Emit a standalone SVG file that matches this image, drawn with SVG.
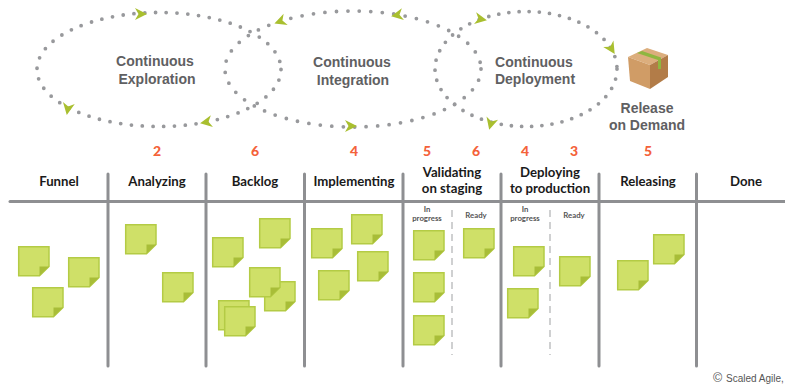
<svg xmlns="http://www.w3.org/2000/svg" width="785" height="388" viewBox="0 0 785 388">
<style>
.dots{fill:none;stroke:#98999c;stroke-width:3.800;stroke-linecap:round}
.rule{stroke:#8e8f92;stroke-width:3;fill:none;stroke-linecap:round}
.dash{stroke:#cfd0d1;stroke-width:2;stroke-dasharray:7 5;fill:none}
.loop{font:bold 14px "Liberation Sans",Arial,sans-serif;fill:#5f6062;text-anchor:middle}
.head{font:700 13.200px Lato,sans-serif;fill:#1a1a1a;text-anchor:middle}
.num{font:900 14px Lato,sans-serif;fill:#f4623a;text-anchor:middle}
.sub{font:700 7.800px Lato,sans-serif;fill:#555;text-anchor:middle}
.copy{font:10px "Liberation Sans",Arial,sans-serif;fill:#555}
</style>
<defs>
<path id="ah" d="M7 0L-5 -6L-1.500 0L-5 6Z" fill="#a9bf2f"/>
<g id="note">
<path d="M.7 .7H31V20.500L21.500 29.700H.7Z" fill="#cfe068" stroke="#b4cb45" stroke-width="1.500"/>
<path d="M31 20.500H21.500V29.700Z" fill="#a8bd38"/>
</g>
</defs>
<rect width="785" height="388" fill="#fff"/>
<g id="connectors">
<ellipse class="dots" cx="159" cy="69.500" rx="122" ry="57" stroke-dasharray="0 10.800"/>
<ellipse class="dots" cx="353" cy="69" rx="128" ry="58" stroke-dasharray="0 11.500"/>
<ellipse class="dots" cx="526" cy="69" rx="91" ry="57.500" stroke-dasharray="0 10.200"/>
<use href="#ah" transform="translate(140 14)"/>
<use href="#ah" transform="translate(281 21) rotate(160)"/>
<use href="#ah" transform="translate(398 15) rotate(170)"/>
<use href="#ah" transform="translate(68 108) rotate(100)"/>
<use href="#ah" transform="translate(207 122) rotate(170)"/>
<use href="#ah" transform="translate(350 126)"/>
<use href="#ah" transform="translate(480 19) rotate(10)"/>
<use href="#ah" transform="translate(611 48) rotate(58)"/>
<use href="#ah" transform="translate(491 123) rotate(105)"/>
</g>
<g id="loop-exploration"><text class="loop" x="155" y="66">Continuous</text><text class="loop" x="157" y="84">Exploration</text></g>
<g id="loop-integration"><text class="loop" x="352" y="67">Continuous</text><text class="loop" x="353" y="85">Integration</text></g>
<g id="loop-deployment"><text class="loop" x="534" y="67">Continuous</text><text class="loop" x="535" y="84">Deployment</text></g>
<g id="release">
<path d="M628 57L647 48L668 55L650 65Z" fill="#dcae7d"/>
<path d="M628 57L650 65L650 89L630 81Z" fill="#d09c66"/>
<path d="M650 65L668 55L668 77L650 89Z" fill="#b27c48"/>
<path d="M637 53L642 51L661 57.500L661 69L658 69L658 60Z" fill="#8fb640"/>
<text class="loop" x="647" y="113">Release</text><text class="loop" x="647" y="130">on Demand</text>
</g>
<g id="board">
<path class="rule" d="M10 201.500H785"/>
<path class="rule" d="M108 174V366M206 174V366M304.500 174V366M403 174V366M501 174V366M599 174V366M696.500 174V366"/>
<path class="dash" d="M452 210V355M550 210V355"/>
</g>
<g id="funnel"><text class="head" x="59" y="186">Funnel</text><use href="#note" x="18" y="246"/><use href="#note" x="68" y="257"/><use href="#note" x="32" y="287"/></g>
<g id="analyzing"><text class="num" x="157" y="156">2</text><text class="head" x="157" y="186">Analyzing</text><use href="#note" x="125" y="224"/><use href="#note" x="162" y="272"/></g>
<g id="backlog"><text class="num" x="255" y="156">6</text><text class="head" x="255" y="186">Backlog</text><use href="#note" x="212" y="237"/><use href="#note" x="259" y="218"/><use href="#note" x="264" y="281"/><use href="#note" x="249" y="267"/><use href="#note" x="218" y="300"/><use href="#note" x="224" y="306"/></g>
<g id="implementing"><text class="num" x="354" y="156">4</text><text class="head" x="354" y="186">Implementing</text><use href="#note" x="311" y="228"/><use href="#note" x="351" y="214"/><use href="#note" x="357" y="251"/><use href="#note" x="318" y="270"/></g>
<g id="validating"><text class="num" x="427" y="156">5</text><text class="num" x="476" y="156">6</text><text class="head" x="452" y="177">Validating</text><text class="head" x="452" y="192.500">on staging</text>
<text class="sub" x="427" y="212">In</text><text class="sub" x="427" y="221">progress</text><text class="sub" x="476" y="218">Ready</text>
<use href="#note" x="413" y="230"/><use href="#note" x="413" y="272"/><use href="#note" x="413" y="315"/><use href="#note" x="463" y="228"/></g>
<g id="deploying"><text class="num" x="525" y="156">4</text><text class="num" x="574" y="156">3</text><text class="head" x="550" y="177">Deploying</text><text class="head" x="550" y="192.500">to production</text>
<text class="sub" x="525" y="212">In</text><text class="sub" x="525" y="221">progress</text><text class="sub" x="574" y="218">Ready</text>
<use href="#note" x="513" y="246"/><use href="#note" x="507" y="288"/><use href="#note" x="559" y="256"/></g>
<g id="releasing"><text class="num" x="648" y="156">5</text><text class="head" x="648" y="186">Releasing</text><use href="#note" x="617" y="260"/><use href="#note" x="653" y="234"/></g>
<g id="done"><text class="head" x="746" y="186">Done</text></g>
<text class="copy" x="713" y="382"><tspan font-size="12.500">©</tspan><tspan x="726">Scaled Agile,</tspan></text>
</svg>
